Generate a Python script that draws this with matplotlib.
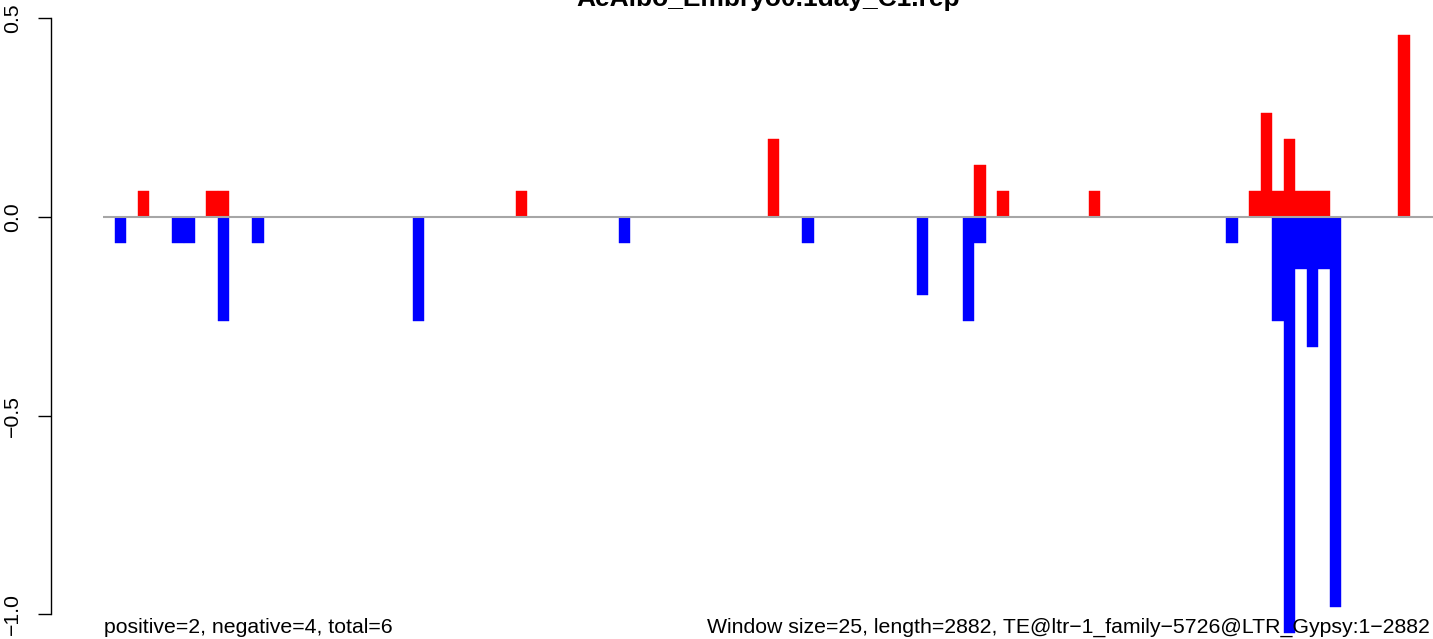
import numpy as np
from matplotlib import pyplot as plt

# Başlık ve alt yazılar
title = "AeAlbo_Embryo0.1day_C1.rep"
left_note = "positive=2, negative=4, total=6"
right_note = "Window size=25, length=2882, TE@ltr\u22121_family\u22125726@LTR_Gypsy:1\u22122882"

# Pencere sayısı (2882 / 25 -> 116)
n_windows = 116

# Pozitif (kırmızı) pencereler
pos_idx = [3, 9, 10, 36, 58, 76, 78, 86, 100, 101, 102, 103, 104, 105, 106, 113]
pos_val = [0.065, 0.065, 0.065, 0.065, 0.196, 0.131, 0.065, 0.065,
           0.065, 0.262, 0.065, 0.196, 0.065, 0.065, 0.065, 0.458]

# Negatif (mavi) pencereler
neg_idx = [1, 6, 7, 10, 13, 27, 45, 61, 71, 75, 76, 98, 102, 103, 104, 105, 106, 107]
neg_val = [-0.065, -0.065, -0.065, -0.262, -0.065, -0.262, -0.065, -0.065, -0.196,
           -0.262, -0.065, -0.065, -0.262, -1.048, -0.131, -0.327, -0.131, -0.982]

y_ticks = [-1.0, -0.5, 0.0, 0.5]
y_tick_labels = ["\u22121.0", "\u22120.5", "0.0", "0.5"]

plt.rcParams['font.family'] = ['Liberation Sans', 'DejaVu Sans']

W, H = 1433, 639
fig = plt.figure(figsize=(W / 100, H / 100), dpi=100)
ax = fig.add_axes([103.3 / W, 0, 1329.4 / W, 1])
ax.set_xlim(0, n_windows)
ax.set_ylim(-1.062, 0.546)

ax.bar(pos_idx, pos_val, width=1, align='edge', color='#ff0000', edgecolor='#ff0000', linewidth=0.3)
ax.bar(neg_idx, neg_val, width=1, align='edge', color='#0000ff', edgecolor='#0000ff', linewidth=0.3)
ax.axhline(0, color='#a6a6a6', lw=1.5, zorder=3)

# R tarzı eksen
for s in ['top', 'right', 'bottom']:
    ax.spines[s].set_visible(False)
ax.spines['left'].set_bounds(-1.0, 0.5)
ax.spines['left'].set_position(('outward', 37.9))
ax.spines['left'].set_linewidth(1)
ax.set_xticks([])
ax.set_yticks(y_ticks)
ax.set_yticklabels(y_tick_labels)
ax.tick_params(axis='y', length=9.4, width=1, labelsize=15.3, pad=11, labelrotation=90)
for lab in ax.get_yticklabels():
    lab.set_verticalalignment('center')

fig.text(768 / W, 1 - 6 / H, title, ha='center', va='baseline', fontsize=19, fontweight='bold')
fig.text(104 / W, 1 - 633 / H, left_note, ha='left', va='baseline', fontsize=15.3)
fig.text(1430 / W, 1 - 633 / H, right_note, ha='right', va='baseline', fontsize=15.3)

fig.savefig('out.png', dpi=100)
